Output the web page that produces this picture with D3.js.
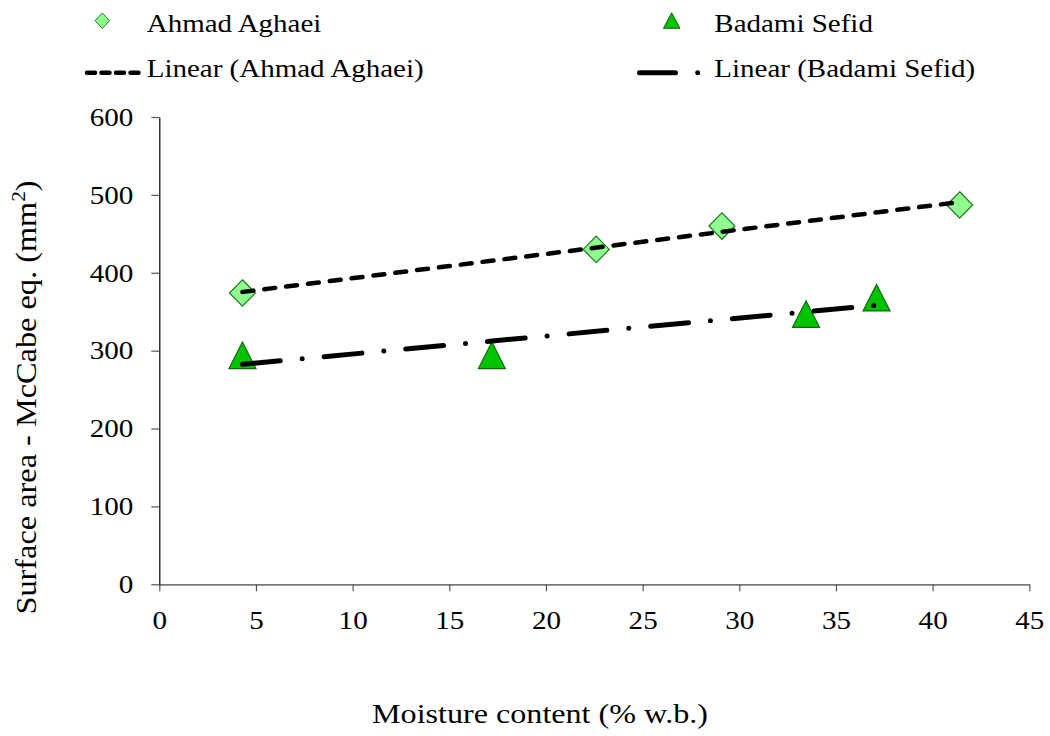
<!DOCTYPE html>
<html>
<head>
<meta charset="utf-8">
<script src="https://cdn.jsdelivr.net/npm/d3@7"></script>
<style>
  html, body { margin: 0; padding: 0; background: #fff; }
  svg { display: block; }
  text { font-family: 'Liberation Serif', 'Times New Roman', serif; fill: #000; }
</style>
</head>
<body>
<div id="chart"></div>
<script>
// data
const seriesNames = ['Ahmad Aghaei', 'Badami Sefid'];
const moistureAA = [4.3, 22.6, 29.1, 41.4];
const areaAA = [374, 430, 460, 487];
const moistureBS = [4.3, 17.2, 33.45, 37.1];
const areaBS = [294, 294, 347, 368];
const xTickValues = [0, 5, 10, 15, 20, 25, 30, 35, 40, 45];
const yTickValues = [0, 100, 200, 300, 400, 500, 600];

const width = 1050, height = 736;
const plot = { left: 159.3, right: 1029.3, top: 117, bottom: 584.3 };

const svg = d3.select('#chart').append('svg')
  .attr('width', width)
  .attr('height', height);

const x = d3.scaleLinear().domain([0, 45]).range([plot.left, plot.right]);
const y = d3.scaleLinear().domain([0, 600]).range([plot.bottom, plot.top]);

// text in the reference is a bit wider than Times, so stretch it
function stretchText(parent, tx, ty, str, size, sx, anchor) {
  const g = parent.append('g').attr('transform', `translate(${tx},${ty}) scale(${sx},1)`);
  return g.append('text')
    .attr('text-anchor', anchor || 'start')
    .style('font-size', size + 'px')
    .text(str);
}

// least squares fit for the trend lines
function linearFit(xs, ys) {
  const mx = d3.mean(xs), my = d3.mean(ys);
  let sxy = 0, sxx = 0;
  xs.forEach((v, i) => { sxy += (v - mx) * (ys[i] - my); sxx += (v - mx) * (v - mx); });
  const slope = sxy / sxx;
  const icpt = my - slope * mx;
  const x0 = d3.min(xs), x1 = d3.max(xs);
  return [[x0, icpt + slope * x0], [x1, icpt + slope * x1]];
}

function diamondPath(cx, cy, w, h) {
  return `M${cx},${cy - h / 2}L${cx + w / 2},${cy}L${cx},${cy + h / 2}L${cx - w / 2},${cy}Z`;
}
function trianglePath(cx, cy, w, h) {
  return `M${cx},${cy - h / 2}L${cx + w / 2},${cy + h / 2}L${cx - w / 2},${cy + h / 2}Z`;
}

const aaColor = { fill: '#8fff8f', stroke: '#1d7a1d' };
const bsColor = { fill: '#00c400', stroke: '#0a6a0a' };
const aaDash = { width: 4.5, dash: '11,11' };
const bsDash = { width: 5, dash: '38,22,0,22' };

/** axes */
const xAxis = svg.append('g')
  .attr('transform', `translate(0,${plot.bottom})`)
  .call(d3.axisBottom(x).tickValues(xTickValues).tickSize(7).tickPadding(0).tickSizeOuter(0));
xAxis.select('.domain').attr('stroke', '#7a7a7a').attr('stroke-width', 1.8);
xAxis.selectAll('.tick line').attr('stroke', '#555').attr('stroke-width', 1.2);
xAxis.selectAll('.tick text')
  .style('font-size', '26px')
  .attr('y', 0).attr('dy', 44.7)
  .attr('transform', 'scale(1.12,1)');

const yAxis = svg.append('g')
  .attr('transform', `translate(${plot.left},0)`)
  .call(d3.axisLeft(y).tickValues(yTickValues).tickSize(8).tickPadding(0).tickSizeOuter(0));
yAxis.select('.domain').attr('stroke', '#000').attr('stroke-width', 1.2);
yAxis.selectAll('.tick line').attr('stroke', '#555').attr('stroke-width', 1.2);
yAxis.selectAll('.tick text')
  .style('font-size', '26px')
  .attr('x', -26 / 1.12)
  .attr('dy', '0.32em')
  .attr('transform', 'scale(1.12,1)');

/** markers */
svg.append('g').selectAll('path')
  .data(moistureAA.map((m, i) => [m, areaAA[i]]))
  .join('path')
  .attr('d', d => diamondPath(x(d[0]), y(d[1]), 26, 26.5))
  .attr('fill', aaColor.fill)
  .attr('stroke', aaColor.stroke)
  .attr('stroke-width', 1.2);

svg.append('g').selectAll('path')
  .data(moistureBS.map((m, i) => [m, areaBS[i]]))
  .join('path')
  .attr('d', d => trianglePath(x(d[0]), y(d[1]), 27, 26.5))
  .attr('fill', bsColor.fill)
  .attr('stroke', bsColor.stroke)
  .attr('stroke-width', 1.2);

/** trend lines, on top of the markers */
const line = d3.line().x(d => x(d[0])).y(d => y(d[1]));

svg.append('path')
  .datum(linearFit(moistureAA, areaAA))
  .attr('d', line)
  .attr('fill', 'none')
  .attr('stroke', '#000')
  .attr('stroke-width', aaDash.width)
  .attr('stroke-linecap', 'round')
  .attr('stroke-dasharray', aaDash.dash);

svg.append('path')
  .datum(linearFit(moistureBS, areaBS))
  .attr('d', line)
  .attr('fill', 'none')
  .attr('stroke', '#000')
  .attr('stroke-width', bsDash.width)
  .attr('stroke-linecap', 'round')
  .attr('stroke-dasharray', bsDash.dash);

/** axis titles */
stretchText(svg, 540, 723, 'Moisture content (% w.b.)', 27, 1.19, 'middle');

const yTitle = svg.append('g')
  .attr('transform', 'translate(35.5,397.5) rotate(-90) scale(1.115,1)')
  .append('text')
  .attr('text-anchor', 'middle')
  .style('font-size', '29px');
yTitle.append('tspan').text('Surface area - McCabe eq. (mm');
yTitle.append('tspan').attr('dy', -11).style('font-size', '19px').text('2');
yTitle.append('tspan').attr('dy', 11).text(')');

/** LEGEND */
const legend = svg.append('g').attr('class', 'legend');

legend.append('path')
  .attr('d', diamondPath(102.3, 20.7, 14.5, 15.5))
  .attr('fill', aaColor.fill).attr('stroke', aaColor.stroke).attr('stroke-width', 1);
stretchText(legend, 146.7, 31.7, seriesNames[0], 25, 1.16);

legend.append('path')
  .attr('d', trianglePath(671.7, 20.5, 16.5, 15.5))
  .attr('fill', bsColor.fill).attr('stroke', bsColor.stroke).attr('stroke-width', 1);
stretchText(legend, 714.3, 31.7, seriesNames[1], 25, 1.16);

legend.append('line')
  .attr('x1', 87).attr('x2', 143).attr('y1', 72.7).attr('y2', 72.7)
  .attr('stroke', '#000').attr('stroke-width', aaDash.width)
  .attr('stroke-linecap', 'round')
  .attr('stroke-dasharray', '8,6.5,8,6.5,8,6.5,8,4.5,0,20');
stretchText(legend, 146.7, 77, `Linear (${seriesNames[0]})`, 25, 1.16);

legend.append('line')
  .attr('x1', 639.5).attr('x2', 697.7).attr('y1', 72.7).attr('y2', 72.7)
  .attr('stroke', '#000').attr('stroke-width', bsDash.width)
  .attr('stroke-linecap', 'round')
  .attr('stroke-dasharray', '36,22.2,0,50');
stretchText(legend, 714.3, 77, `Linear (${seriesNames[1]})`, 25, 1.16);
</script>
</body>
</html>
